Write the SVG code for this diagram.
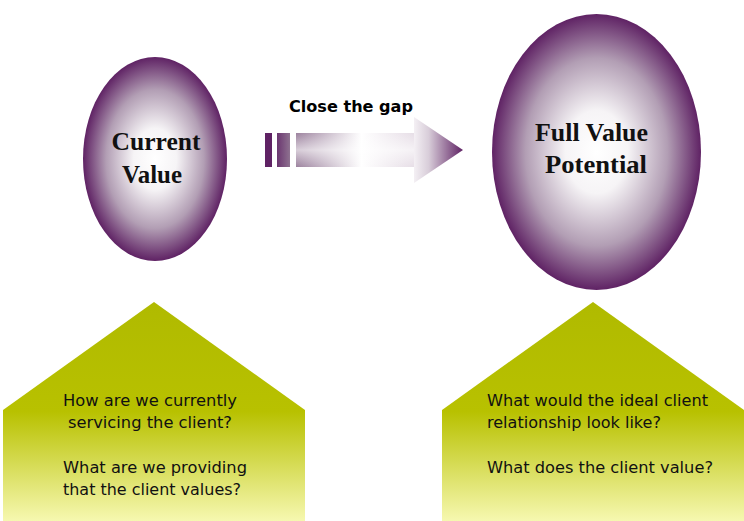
<svg xmlns="http://www.w3.org/2000/svg" width="744" height="521" viewBox="0 0 744 521">
  <defs>
    <radialGradient id="orb" cx="0.5" cy="0.5" r="0.5">
      <stop offset="0" stop-color="#ffffff"/>
      <stop offset="0.3" stop-color="#f6f4f6"/>
      <stop offset="0.68" stop-color="#b29eb4"/>
      <stop offset="1" stop-color="#5f2264"/>
    </radialGradient>
    <linearGradient id="house" x1="0" y1="0" x2="0" y2="1">
      <stop offset="0" stop-color="#b0ba00"/>
      <stop offset="0.5" stop-color="#b8c100"/>
      <stop offset="1" stop-color="#f6f8b0"/>
    </linearGradient>
    <linearGradient id="shaft" x1="0" y1="0" x2="1" y2="0">
      <stop offset="0" stop-color="#9c829e"/>
      <stop offset="0.55" stop-color="#ffffff"/>
      <stop offset="1" stop-color="#e6dde6"/>
    </linearGradient>
    <linearGradient id="shaftV" x1="0" y1="0" x2="0" y2="1">
      <stop offset="0" stop-color="#ffffff" stop-opacity="0"/>
      <stop offset="0.5" stop-color="#ffffff" stop-opacity="0.6"/>
      <stop offset="1" stop-color="#ffffff" stop-opacity="0"/>
    </linearGradient>
    <linearGradient id="head" x1="0" y1="0" x2="1" y2="0">
      <stop offset="0" stop-color="#f4f0f4"/>
      <stop offset="0.3" stop-color="#d8cdd9"/>
      <stop offset="1" stop-color="#5f2264"/>
    </linearGradient>
    <linearGradient id="bar2" x1="0" y1="0" x2="1" y2="0">
      <stop offset="0" stop-color="#6b3670"/>
      <stop offset="1" stop-color="#8e7290"/>
    </linearGradient>
    <style>
      .orb-label { font-family: "Liberation Serif", "DejaVu Serif", serif; font-weight: bold; font-size: 25px; fill: #111111; text-anchor: middle; }
      .q { font-family: "DejaVu Sans", "Liberation Sans", sans-serif; font-size: 15.5px; fill: #111111; }
      .gap { font-family: "DejaVu Sans", "Liberation Sans", sans-serif; font-weight: bold; font-size: 15px; fill: #000000; }
    </style>
  </defs>

  <rect width="744" height="521" fill="#ffffff"/>

  <!-- current value orb -->
  <g id="current-value">
    <ellipse cx="155" cy="159" rx="72" ry="102" fill="url(#orb)"/>
    <text class="orb-label" x="156" y="150" textLength="89" lengthAdjust="spacingAndGlyphs">Current</text>
    <text class="orb-label" x="152" y="183" textLength="60" lengthAdjust="spacingAndGlyphs">Value</text>
  </g>

  <!-- full value potential orb -->
  <g id="full-value">
    <ellipse cx="596.5" cy="152" rx="104.5" ry="138" fill="url(#orb)"/>
    <text class="orb-label" x="591.5" y="141" textLength="113" lengthAdjust="spacingAndGlyphs">Full Value</text>
    <text class="orb-label" x="596" y="173" textLength="102" lengthAdjust="spacingAndGlyphs">Potential</text>
  </g>

  <!-- arrow between the orbs -->
  <g id="connectors">
    <rect x="265" y="133" width="7" height="34" fill="#5f2264"/>
    <rect x="277" y="133" width="13" height="34" fill="url(#bar2)"/>
    <rect x="296" y="133" width="119" height="34" fill="url(#shaft)"/>
    <rect x="296" y="133" width="119" height="34" fill="url(#shaftV)"/>
    <polygon points="414,117 463,150 414,183" fill="url(#head)"/>
    <text class="gap" x="289" y="112" textLength="124" lengthAdjust="spacingAndGlyphs">Close the gap</text>
  </g>

  <!-- left question panel -->
  <g id="current-questions">
    <polygon points="154,302 305,410 305,521 3,521 3,410" fill="url(#house)"/>
    <text class="q" x="63" y="406" textLength="174" lengthAdjust="spacingAndGlyphs">How are we currently</text>
    <text class="q" x="68" y="428" textLength="164" lengthAdjust="spacingAndGlyphs">servicing the client?</text>
    <text class="q" x="63" y="473" textLength="184" lengthAdjust="spacingAndGlyphs">What are we providing</text>
    <text class="q" x="63" y="495" textLength="178" lengthAdjust="spacingAndGlyphs">that the client values?</text>
  </g>

  <!-- right question panel -->
  <g id="potential-questions">
    <polygon points="593,302 744,410 744,521 442,521 442,410" fill="url(#house)"/>
    <text class="q" x="487" y="406" textLength="221" lengthAdjust="spacingAndGlyphs">What would the ideal client</text>
    <text class="q" x="487" y="428" textLength="174" lengthAdjust="spacingAndGlyphs">relationship look like?</text>
    <text class="q" x="487" y="473" textLength="226" lengthAdjust="spacingAndGlyphs">What does the client value?</text>
  </g>
</svg>
